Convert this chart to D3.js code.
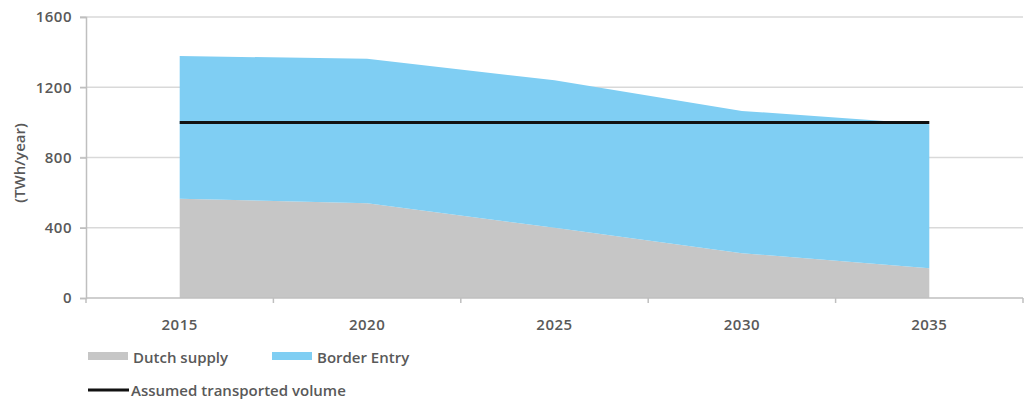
<!DOCTYPE html>
<html>
<head>
<meta charset="utf-8">
<script src="https://cdn.jsdelivr.net/npm/d3@7"></script>
<style>
  body { margin: 0; background: #fff; }
  text { font-family: "Open Sans", sans-serif; fill: #595959; }
</style>
</head>
<body>
<svg id="chart" width="1027" height="402"></svg>
<script>
// values (TWh/year)
var years = ["2015", "2020", "2025", "2030", "2035"];
var dutchSupply = [565, 540, 400, 255, 170];
var borderEntry = [813, 822, 840, 810, 820];
var assumedVolume = [1000, 1000, 1000, 1000, 1000];
var yTicks = [0, 400, 800, 1200, 1600];

var svg = d3.select("#chart");

var plotLeft = 86, plotRight = 1023, plotTop = 17, plotBottom = 298;

var x = d3.scaleBand().domain(years).range([plotLeft, plotRight]).padding(0);
var y = d3.scaleLinear().domain([0, 1600]).range([plotBottom, plotTop]);

function cx(d) { return x(d) + x.bandwidth() / 2; }

// gridlines
svg.append("g")
  .selectAll("line")
  .data(yTicks.slice(1))
  .enter().append("line")
  .attr("x1", plotLeft - 6).attr("x2", plotRight)
  .attr("y1", function(d) { return y(d); })
  .attr("y2", function(d) { return y(d); })
  .style("stroke", "#d9d9d9")
  .style("stroke-width", 1.5);

// stacked areas
var rows = years.map(function(yr, i) {
  return { year: yr, dutch: dutchSupply[i], border: borderEntry[i] };
});
var stack = d3.stack().keys(["dutch", "border"]);
var series = stack(rows);
var colours = { dutch: "#c6c6c6", border: "#7fcef3" };

var area = d3.area()
  .x(function(d) { return cx(d.data.year); })
  .y0(function(d) { return y(d[0]); })
  .y1(function(d) { return y(d[1]); });

svg.append("g")
  .selectAll("path")
  .data(series)
  .enter().append("path")
  .attr("d", area)
  .style("fill", function(d) { return colours[d.key]; });

// assumed transported volume
var line = d3.line()
  .x(function(d, i) { return cx(years[i]); })
  .y(function(d) { return y(d); });

svg.append("path")
  .datum(assumedVolume)
  .attr("d", line)
  .style("fill", "none")
  .style("stroke", "#111")
  .style("stroke-width", 3);

// y axis
var yaxis = d3.axisLeft(y).tickValues(yTicks).tickSize(6).tickPadding(8).tickFormat(d3.format("d"));
var gy = svg.append("g")
  .attr("transform", "translate(" + plotLeft + ",0)")
  .call(yaxis);
gy.select(".domain").style("stroke", "#bfbfbf").style("stroke-width", 1.5);
gy.selectAll(".tick line").style("stroke", "#bfbfbf").style("stroke-width", 1.5);
gy.selectAll(".tick text")
  .style("font-size", "15px").style("font-weight", 600)
  .style("letter-spacing", "0.5px").style("fill", "#595959");

// x axis with ticks between categories
var xaxis = d3.axisBottom(x).tickSize(0).tickPadding(21);
var gx = svg.append("g")
  .attr("transform", "translate(0," + plotBottom + ")")
  .call(xaxis);
gx.select(".domain").remove();
gx.selectAll(".tick text")
  .style("font-size", "15px").style("font-weight", 600)
  .style("letter-spacing", "0.5px").style("fill", "#595959");

gx.append("line")
  .attr("x1", plotLeft).attr("x2", plotRight)
  .style("stroke", "#bfbfbf").style("stroke-width", 1.5);

gx.selectAll(".sep")
  .data(years.concat(["end"]))
  .enter().append("line")
  .attr("class", "sep")
  .attr("x1", function(d, i) { return plotLeft + i * x.bandwidth(); })
  .attr("x2", function(d, i) { return plotLeft + i * x.bandwidth(); })
  .attr("y1", 0).attr("y2", 5)
  .style("stroke", "#bfbfbf").style("stroke-width", 1.5);

// y label
svg.append("text")
  .attr("transform", "translate(25,163) rotate(-90)")
  .style("text-anchor", "middle")
  .style("font-size", "15px")
  .style("font-weight", 600)
  .text("(TWh/year)");

// legend
var legend = svg.append("g").style("font-size", "15px").style("font-weight", 600);

legend.append("rect").attr("x", 88).attr("y", 352).attr("width", 40).attr("height", 8).style("fill", colours.dutch);
legend.append("text").attr("x", 133).attr("y", 363).text("Dutch supply");

legend.append("rect").attr("x", 272).attr("y", 352).attr("width", 40).attr("height", 8).style("fill", colours.border);
legend.append("text").attr("x", 317).attr("y", 363).text("Border Entry");

legend.append("line").attr("x1", 88).attr("x2", 129).attr("y1", 390).attr("y2", 390)
  .style("stroke", "#111").style("stroke-width", 3);
legend.append("text").attr("x", 131).attr("y", 396).text("Assumed transported volume");
</script>
</body>
</html>
